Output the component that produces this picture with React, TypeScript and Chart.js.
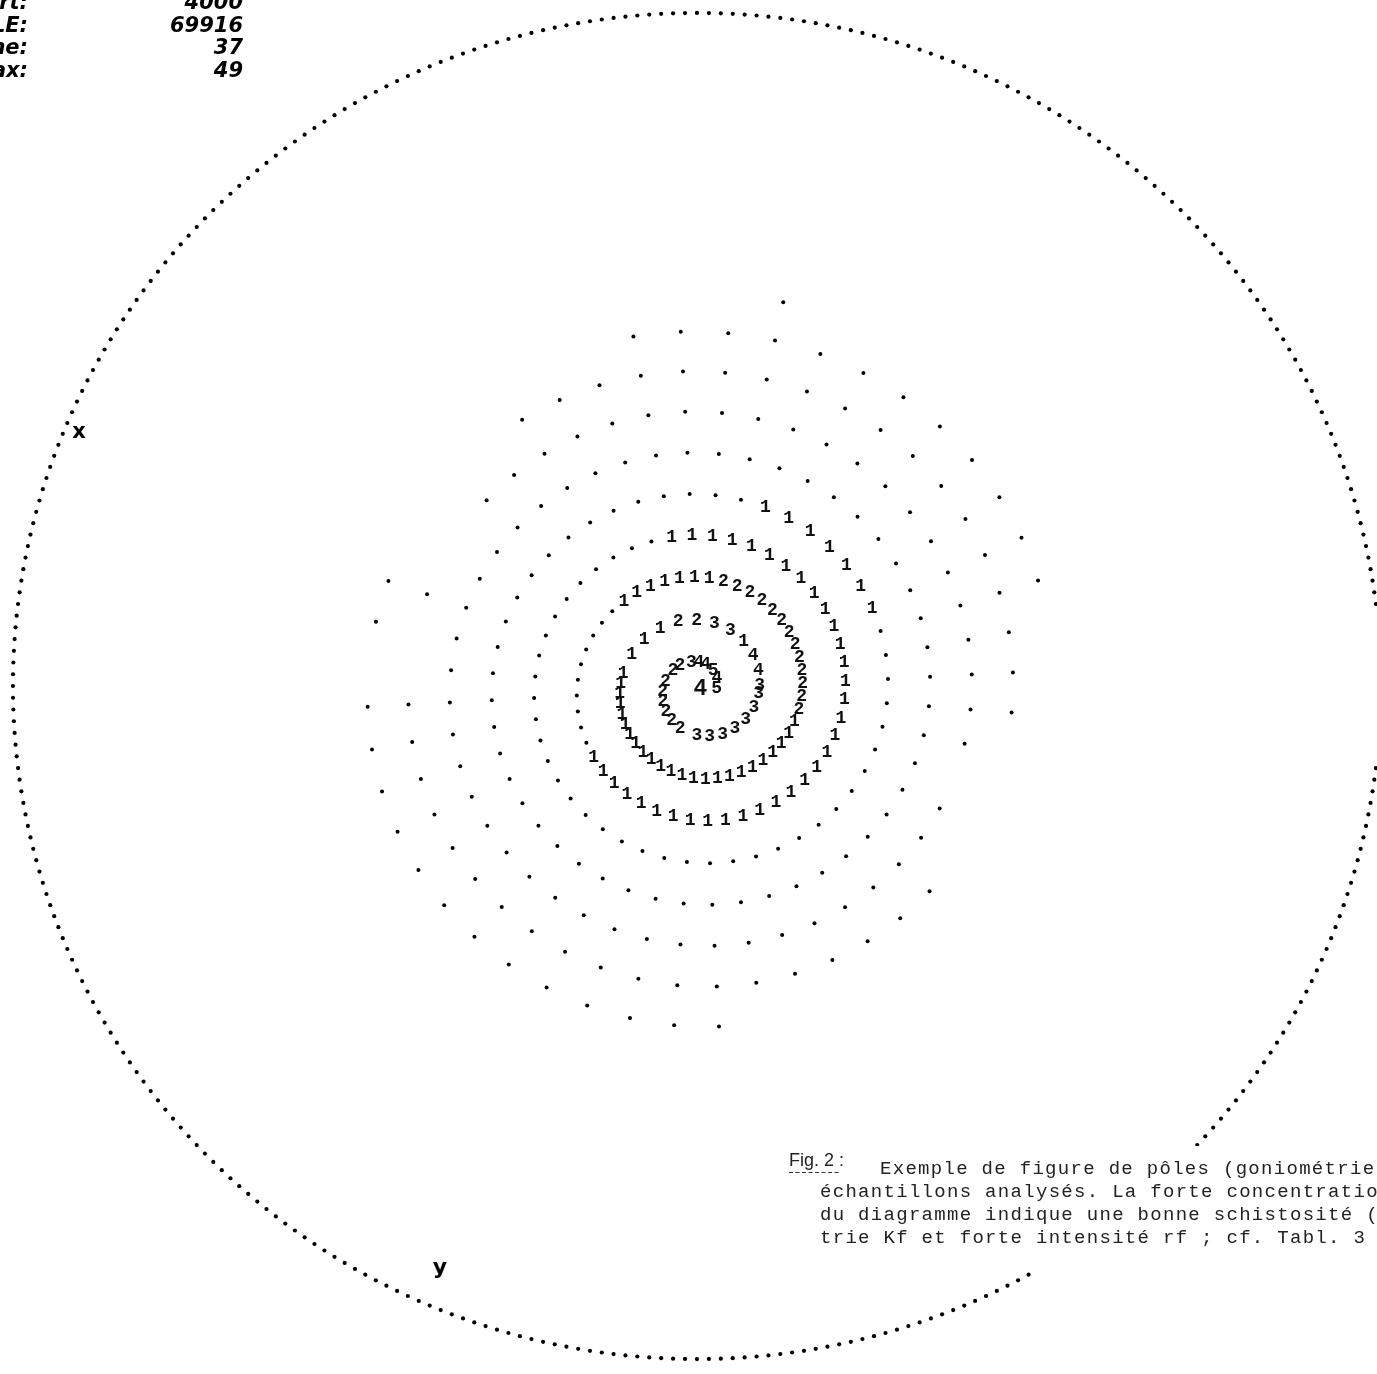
import { useEffect, useRef } from "react";
import { Chart, registerables } from "chart.js";

Chart.register(...registerables);

// Spiral goniometer scan: 48 readings per turn, tilt grows steadily along the spiral.
const POINTS_PER_TURN = 48;
const AZIMUTH_START = 3.1; // degrees, counter-clockwise from the right
const AZIMUTH_STEP = 360 / POINTS_PER_TURN;
const TILT_START = 1.91; // degrees
const TILT_PER_TURN = 5.12; // degrees

// Intensity class of each reading, one character per reading along a turn.
// "." = class 0 (printed as a dot), "1".."5" = class, "-" = no reading printed.
const TURN_0 = "5---4--5--4-" + "4-3--2-2--2-" + "2-2-2-2-2--3" + "-3-3-3-3-3-3";
const TURN_1 = "3-4-4-1-3-3-" + "2-2-1-1-1-11" + "111111111111" + "111111111122";
const TURN_2 = "222222222221" + "111111......" + "....11111111" + "111111111111";
const TURN_3 = "111111111111" + "11.........." + "............" + "............";
const TURN_4 = "...1111111.." + "............" + "............" + "............";
const TURN_5 = "............" + "............" + "............" + ".........-..";
const TURN_6 = "............" + ".......--.--" + "............" + ".......----.";
const TURN_7 = "............" + ".....----..-" + "............" + ".-----------";
const TURN_8 = "--.........." + "..----------" + "------------" + "------------";
const TURN_9 = "----------.-" + "------------" + "------------" + "------------";
const TURNS = [TURN_0, TURN_1, TURN_2, TURN_3, TURN_4, TURN_5, TURN_6, TURN_7, TURN_8, TURN_9];
const CENTRE_READING = "4";

// Reference circle: one dot per degree of azimuth at 90° tilt.
const CIRCLE_DOTS = 360;

const HEADER_LABELS = ["Départ:", "TOTALE:", "Moyenne:", "Max:"];
const HEADER_VALUES = ["4000", "69916", "37", "49"];

const CAPTION_HEAD = "Fig. 2 :";
const CAPTION_FIRST = "Exemple de figure de pôles (goniométrie";
const CAPTION_REST = [
  "échantillons analysés. La forte concentratio",
  "du diagramme indique une bonne schistosité (",
  "trie Kf et forte intensité rf ; cf. Tabl. 3",
];

// Small offset of the pole grid relative to the reference circle.
const POLE_SHIFT_X = 0.0051;
const POLE_SHIFT_Y = -0.0045;

const W = 1377;
const H = 1374;
const CX = 697;
const CY = 686;
const RX = 688;
const RY = 677;

function project(tilt: number, azimuth: number) {
  // equal-area (Schmidt) projection, unit radius at 90° tilt
  const rho = Math.SQRT2 * Math.sin((tilt * Math.PI) / 360);
  const a = (azimuth * Math.PI) / 180;
  return { x: POLE_SHIFT_X + rho * Math.cos(a), y: POLE_SHIFT_Y + rho * Math.sin(a) };
}

function buildPoints() {
  const zeros: { x: number; y: number }[] = [];
  const classes: { x: number; y: number; v: string; big?: boolean }[] = [];
  classes.push({ x: POLE_SHIFT_X, y: POLE_SHIFT_Y, v: CENTRE_READING, big: true });
  TURNS.forEach((turn, t) => {
    for (let j = 0; j < POINTS_PER_TURN; j++) {
      const c = turn[j];
      if (!c || c === "-") continue;
      const tilt = TILT_START + TILT_PER_TURN * (t + j / POINTS_PER_TURN);
      const az = AZIMUTH_START + AZIMUTH_STEP * j;
      const p = project(tilt, az);
      if (c === ".") zeros.push(p);
      else classes.push({ ...p, v: c });
    }
  });
  return { zeros, classes };
}

function buildCircle() {
  const pts: { x: number; y: number }[] = [];
  for (let d = 0; d < CIRCLE_DOTS; d++) {
    const a = (d * Math.PI) / 180;
    pts.push({ x: Math.cos(a), y: Math.sin(a) });
  }
  return pts;
}

const annotationPlugin = {
  id: "poleText",
  afterDatasetsDraw(chart: any) {
    const ctx: CanvasRenderingContext2D = chart.ctx;
    const meta = chart.getDatasetMeta(2);
    const raw = chart.data.datasets[2].data as any[];
    ctx.save();
    ctx.fillStyle = "#111";
    ctx.textAlign = "center";
    ctx.textBaseline = "middle";
    meta.data.forEach((el: any, i: number) => {
      const r = raw[i];
      ctx.font = r.big ? 'bold 23px "Liberation Mono"' : 'bold 18px "Liberation Mono"';
      ctx.fillText(r.v, el.x, el.y);
    });

    // caption block, pasted over the lower right of the circle
    ctx.fillStyle = "#fff";
    ctx.fillRect(782, 1146, W - 782, 126);
    ctx.fillStyle = "#222";
    ctx.textAlign = "left";
    ctx.textBaseline = "alphabetic";
    ctx.font = '18px "Liberation Sans"';
    ctx.fillText(CAPTION_HEAD, 789, 1166);
    ctx.strokeStyle = "#333";
    ctx.lineWidth = 1.2;
    ctx.setLineDash([4, 2.5]);
    ctx.beginPath();
    ctx.moveTo(789, 1172.5);
    ctx.lineTo(840, 1172.5);
    ctx.stroke();
    ctx.setLineDash([]);
    ctx.font = '19px "Liberation Mono"';
    (ctx as any).letterSpacing = "1.3px";
    ctx.fillText(CAPTION_FIRST, 880, 1174);
    CAPTION_REST.forEach((line, i) => ctx.fillText(line, 820, 1197 + i * 23));
    (ctx as any).letterSpacing = "0px";

    // header block in the top left corner
    ctx.fillStyle = "#000";
    ctx.font = 'italic bold 21px "DejaVu Sans"';
    ctx.textAlign = "right";
    HEADER_LABELS.forEach((l, i) => ctx.fillText(l, 28, 9 + i * 22.5));
    HEADER_VALUES.forEach((v, i) => ctx.fillText(v, 243, 9 + i * 22.5));

    // sample axes
    ctx.textAlign = "center";
    ctx.textBaseline = "middle";
    ctx.font = 'bold 21px "DejaVu Sans"';
    ctx.fillText("x", 79, 433);
    ctx.font = 'bold 22px "DejaVu Sans"';
    ctx.fillText("y", 440, 1268);
    ctx.restore();
  },
};

export default function App() {
  const ref = useRef<HTMLCanvasElement | null>(null);
  useEffect(() => {
    if (!ref.current) return;
    const { zeros, classes } = buildPoints();
    const chart = new Chart(ref.current, {
      type: "scatter",
      data: {
        datasets: [
          {
            data: buildCircle(),
            pointRadius: 2.1,
            pointBorderWidth: 0,
            pointBackgroundColor: "#000",
            clip: false as any,
          },
          {
            data: zeros,
            pointRadius: 2,
            pointBorderWidth: 0,
            pointBackgroundColor: "#000",
            clip: false as any,
          },
          {
            data: classes as any,
            pointRadius: 0,
            pointBorderWidth: 0,
            clip: false as any,
          },
        ],
      },
      options: {
        responsive: false,
        maintainAspectRatio: false,
        animation: false,
        events: [],
        layout: { padding: 0 },
        plugins: { legend: { display: false }, tooltip: { enabled: false } },
        scales: {
          x: { type: "linear", display: false, min: -CX / RX, max: (W - CX) / RX },
          y: { type: "linear", display: false, min: -(H - CY) / RY, max: CY / RY },
        },
      },
      plugins: [annotationPlugin],
    });
    return () => chart.destroy();
  }, []);
  return (
    <div style={{ position: "fixed", left: 0, top: 0, width: W, height: H, background: "#fff" }}>
      <canvas ref={ref} width={W} height={H} style={{ display: "block" }} />
    </div>
  );
}
